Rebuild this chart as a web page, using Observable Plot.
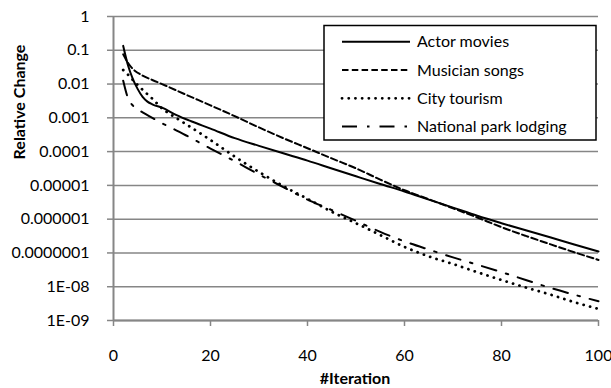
<!DOCTYPE html>
<html>
<head>
<meta charset="utf-8">
<script src="https://cdn.jsdelivr.net/npm/d3@7"></script>
<script src="https://cdn.jsdelivr.net/npm/@observablehq/plot@0.6"></script>
<style>
  html, body { margin: 0; padding: 0; background: #fff; }
  #chart { width: 611px; height: 388px; }
</style>
</head>
<body>
<div id="chart"></div>
<script>
// ---- data ----
const seriesNames = ["Actor movies", "Musician songs", "City tourism", "National park lodging"];

const actorIter = [2,3,4,5,6,7,8,10,13,16,20,25,30,35,40,45,50,55,60,65,70,75,80,85,90,95,100];
const actorVal  = [0.135,0.0355,0.0141,0.00708,0.00417,0.00302,0.00251,0.002,0.0012,7.9e-4,4.8e-4,2.5e-4,1.48e-4,8.9e-5,5.4e-5,3.16e-5,1.86e-5,1.1e-5,6.6e-6,3.8e-6,2.2e-6,1.26e-6,7.6e-7,4.7e-7,2.9e-7,1.78e-7,1.1e-7];

const musicIter = [2,3,4,6,8,10,15,20,25,30,35,40,45,50,55,60,65,70,75,80,85,90,95,100];
const musicVal  = [0.076,0.042,0.028,0.0178,0.0132,0.01,0.0048,0.00234,0.00112,5.2e-4,2.5e-4,1.26e-4,6.3e-5,3.2e-5,1.48e-5,7.2e-6,3.9e-6,2.1e-6,1.12e-6,5.8e-7,3.2e-7,1.82e-7,1.05e-7,6.2e-8];

const cityIter = [2,3,4,5,6,7,8,10,12,14,16,18,20,25,30,35,40,45,50,55,60,65,70,75,80,85,90,95,100];
const cityVal  = [0.026,0.019,0.0132,0.0093,0.0068,0.005,0.0037,0.0019,0.0012,7.9e-4,5.2e-4,3.4e-4,2.2e-4,7.1e-5,2.5e-5,9.5e-6,4.0e-6,1.66e-6,7.6e-7,3.4e-7,1.51e-7,7.9e-8,4.7e-8,2.7e-8,1.58e-8,9.5e-9,5.9e-9,3.5e-9,2.2e-9];

const parkIter = [2,3,4,5,6,8,10,12,15,20,25,30,35,40,45,50,55,60,65,70,75,80,85,90,95,100];
const parkVal  = [0.0126,0.0038,0.0023,0.00178,0.00145,0.001,6.9e-4,5.0e-4,3.0e-4,1.23e-4,5.2e-5,2.1e-5,8.9e-6,3.8e-6,1.86e-6,8.9e-7,4.2e-7,2.2e-7,1.26e-7,7.4e-8,4.5e-8,2.7e-8,1.58e-8,9.3e-9,5.8e-9,3.7e-9];

const xTicks = [0, 20, 40, 60, 80, 100];
const yTicks = [1, 0.1, 0.01, 0.001, 0.0001, 0.00001, 0.000001, 0.0000001, 1e-8, 1e-9];
const yTickLabels = ["1","0.1","0.01","0.001","0.0001","0.00001","0.000001","0.0000001","1E-08","1E-09"];
const xTitle = "#Iteration";
const yTitle = "Relative Change";

// ---- styles ----
const grid = "#868686";
const lineStyles = [
  {strokeWidth: 2},
  {strokeWidth: 2, strokeDasharray: "6.5,3.3"},
  {strokeWidth: 2.8, strokeDasharray: "0.1,6.6", strokeLinecap: "round"},
  {strokeWidth: 2, strokeDasharray: "15,10,2.5,10"}
];

const toRows = (it, v) => it.map((x, i) => ({x, y: v[i]}));
const seriesData = [
  toRows(actorIter, actorVal),
  toRows(musicIter, musicVal),
  toRows(cityIter, cityVal),
  toRows(parkIter, parkVal)
];

const fontFamily = "Lato, 'Open Sans', sans-serif";

const chart = Plot.plot({
  width: 611,
  height: 388,
  marginTop: 16,
  marginBottom: 68,
  marginLeft: 113,
  marginRight: 13,
  style: {fontFamily, fontSize: "16px", background: "#fff", color: "#000", overflow: "visible"},
  x: {domain: [0, 100]},
  y: {type: "log", domain: [1e-9, 1]},
  marks: [
    Plot.ruleY(yTicks, {stroke: grid, strokeWidth: 1.5}),
    Plot.axisY({ticks: yTicks, tickFormat: d => yTickLabels[yTicks.indexOf(d)], tickSize: 6, tickPadding: 18,
                stroke: grid, strokeWidth: 1.5, label: null, fontSize: 16, fill: "#000"}),
    Plot.axisX({ticks: xTicks, tickSize: 6, tickPadding: 23, stroke: grid, strokeWidth: 1.5,
                label: null, fontSize: 16, fill: "#000"}),
    Plot.ruleX([0], {stroke: grid, strokeWidth: 2}),
    Plot.ruleY([1e-9], {stroke: grid, strokeWidth: 2}),
    ...seriesData.map((d, i) => Plot.line(d, {x: "x", y: "y", stroke: "#000", curve: "monotone-x", ...lineStyles[i]}))
  ]
});

document.getElementById("chart").appendChild(chart);

// ---- titles and legend ----
const svg = d3.select(chart);
svg.append("text")
  .attr("x", 355).attr("y", 384)
  .attr("text-anchor", "middle")
  .attr("font-family", fontFamily).attr("font-size", 16).attr("font-weight", "bold")
  .text(xTitle);
svg.append("text")
  .attr("transform", "translate(25,102) rotate(-90)")
  .attr("text-anchor", "middle")
  .attr("font-family", fontFamily).attr("font-size", 16).attr("font-weight", "bold")
  .text(yTitle);

const lg = svg.append("g").attr("text-anchor", "start");
lg.append("rect").attr("x", 324).attr("y", 25.5).attr("width", 272).attr("height", 114.5)
  .attr("fill", "#fff").attr("stroke", "#000").attr("stroke-width", 1.5);
seriesNames.forEach((name, i) => {
  const y = 41.7 + i * 28.3;
  const st = lineStyles[i];
  lg.append("line").attr("x1", 342).attr("x2", 410).attr("y1", y).attr("y2", y)
    .attr("stroke", "#000").attr("stroke-width", st.strokeWidth)
    .attr("stroke-dasharray", st.strokeDasharray || null)
    .attr("stroke-linecap", st.strokeLinecap || "butt");
  lg.append("text").attr("x", 417).attr("y", y).attr("dy", "0.35em")
    .attr("text-anchor", "start")
    .attr("font-family", fontFamily).attr("font-size", 16)
    .text(name);
});
</script>
</body>
</html>
